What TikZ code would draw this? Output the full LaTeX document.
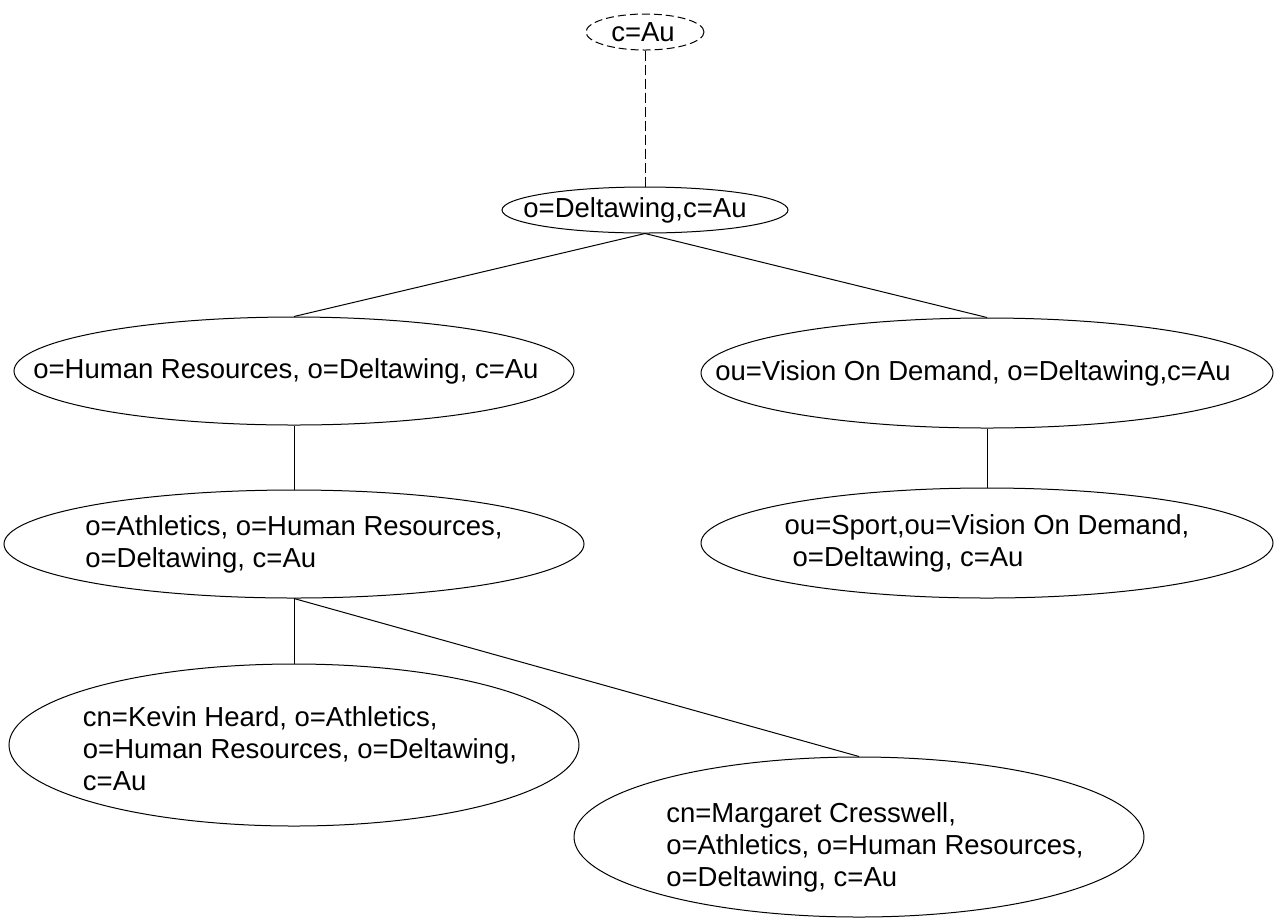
\documentclass[tikz,border=0pt]{standalone}
\usepackage{fontspec}
\setmainfont{Liberation Sans}
\usetikzlibrary{shapes.geometric}

\begin{document}
\begin{tikzpicture}[x=0.5pt,y=-0.5pt,
	entry/.style={ellipse,draw,line width=0.5pt,inner sep=0pt},
	txt/.style={align=left,inner sep=0pt,font=\fontsize{13.75}{16}\selectfont},
	link/.style={line width=0.5pt}]
\useasboundingbox (0,0) rectangle (1275,918);
% directory tree
\node[entry,dash pattern=on 4pt off 2pt,minimum width=59pt,minimum height=18pt,
	label={[txt,xshift=-1pt]center:c=Au}] (country) at (645,32) {};
\node[entry,minimum width=143pt,minimum height=23pt,
	label={[txt,xshift=-5pt]center:o=Deltawing,c=Au}] (org) at (645,210) {};
\node[entry,minimum width=280pt,minimum height=54pt,
	label={[txt,xshift=-4pt]center:o=Human Resources, o=Deltawing, c=Au}] (hr) at (294,371) {};
\node[entry,minimum width=286pt,minimum height=55pt,
	label={[txt,xshift=-7pt]center:ou=Vision On Demand, o=Deltawing,c=Au}] (vod) at (987,373) {};
\node[entry,minimum width=290pt,minimum height=54pt,
	label={[txt]center:{o=Athletics, o=Human Resources,\\o=Deltawing, c=Au}}] (athletics) at (294,544) {};
\node[entry,minimum width=286pt,minimum height=55pt,
	label={[txt]center:{ou=Sport,ou=Vision On Demand,\\\hspace*{4pt}o=Deltawing, c=Au}}] (sport) at (987,543) {};
\node[entry,minimum width=285pt,minimum height=81pt,
	label={[txt,xshift=3pt,yshift=-2pt]center:{cn=Kevin Heard, o=Athletics,\\o=Human Resources, o=Deltawing,\\c=Au}}] (kevin) at (294,745) {};
\node[entry,minimum width=285pt,minimum height=80pt,
	label={[txt,xshift=8pt,yshift=-5pt]center:{cn=Margaret Cresswell,\\o=Athletics, o=Human Resources,\\o=Deltawing, c=Au}}] (margaret) at (859,837) {};
% connectors
\draw[link,dash pattern=on 5pt off 2pt] (country.south) -- (org.north);
\draw[link] (org.south) -- (hr.north);
\draw[link] (org.south) -- (vod.north);
\draw[link] (hr.south) -- (athletics.north);
\draw[link] (vod.south) -- (sport.north);
\draw[link] (athletics.south) -- (kevin.north);
\draw[link] (athletics.south) -- (margaret.north);
\end{tikzpicture}
\end{document}
